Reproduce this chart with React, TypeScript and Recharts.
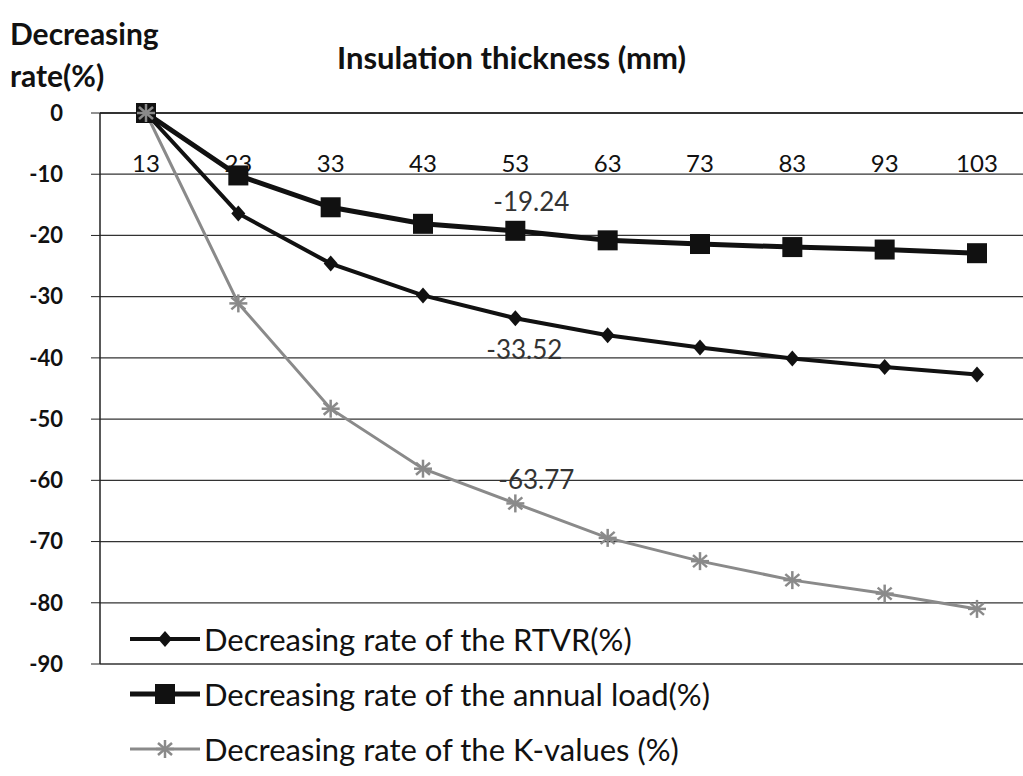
import { LineChart, Line, XAxis, YAxis, CartesianGrid } from "recharts";

const thickness = [13, 23, 33, 43, 53, 63, 73, 83, 93, 103];
const rtvrRate = [0, -16.4, -24.6, -29.8, -33.52, -36.3, -38.3, -40.1, -41.5, -42.7];
const annualLoadRate = [0, -10.2, -15.4, -18.1, -19.24, -20.8, -21.4, -21.9, -22.3, -22.9];
const kValueRate = [0, -31.1, -48.3, -58.1, -63.77, -69.4, -73.2, -76.3, -78.5, -81];
const yTicks = [0, -10, -20, -30, -40, -50, -60, -70, -80, -90];
const labelledCategory = 53;

const SERIES = [
  { key: "rtvr", name: "Decreasing rate of the RTVR(%)", color: "#111", width: 4 },
  { key: "load", name: "Decreasing rate of the annual load(%)", color: "#111", width: 5 },
  { key: "k", name: "Decreasing rate of the K-values (%)", color: "#8a8a8a", width: 3 },
];

const FONT = "Lato, 'Open Sans', sans-serif";

const data = thickness.map((t, i) => ({
  thickness: t,
  rtvr: rtvrRate[i],
  load: annualLoadRate[i],
  k: kValueRate[i],
}));

function Diamond({ cx, cy }: any) {
  if (cx == null || cy == null) return null;
  return (
    <polygon
      points={`${cx},${cy - 8} ${cx + 7},${cy} ${cx},${cy + 8} ${cx - 7},${cy}`}
      fill="#111"
    />
  );
}

function Square({ cx, cy }: any) {
  if (cx == null || cy == null) return null;
  return <rect x={cx - 10} y={cy - 10} width={20} height={20} fill="#111" />;
}

function Star({ cx, cy }: any) {
  if (cx == null || cy == null) return null;
  const r = 9;
  return (
    <g stroke="#8a8a8a" strokeWidth={2.5}>
      <line x1={cx} y1={cy - r} x2={cx} y2={cy + r} />
      <line x1={cx - r} y1={cy} x2={cx + r} y2={cy} />
      <line x1={cx - 7} y1={cy - 6} x2={cx + 7} y2={cy + 6} />
      <line x1={cx - 7} y1={cy + 6} x2={cx + 7} y2={cy - 6} />
    </g>
  );
}

const markers: Record<string, any> = { rtvr: Diamond, load: Square, k: Star };

// only the 53 mm point carries a data label
function makeLabel(dx: number, dy: number) {
  return (props: any) => {
    const { x, y, value, index } = props;
    if (thickness[index] !== labelledCategory) return null;
    return (
      <text
        x={x + dx}
        y={y + dy}
        textAnchor="middle"
        dominantBaseline="central"
        fontFamily={FONT}
        fontSize={26}
        fill="#333"
      >
        {value}
      </text>
    );
  };
}

function XTick({ x, y, payload }: any) {
  return (
    <text x={x} y={y + 59} textAnchor="middle" fontFamily={FONT} fontSize={24} fill="#111">
      {payload.value}
    </text>
  );
}

function LegendBox() {
  return (
    <div style={{ position: "absolute", left: 128, top: 611 }}>
      {SERIES.map((s) => {
        const M = markers[s.key];
        return (
          <div
            key={s.key}
            style={{ display: "flex", alignItems: "center", height: 55, fontFamily: FONT, fontSize: 31, color: "#111" }}
          >
            <svg width={74} height={30} style={{ marginRight: 2 }}>
              <line x1={2} y1={15} x2={72} y2={15} stroke={s.color} strokeWidth={s.width} />
              <M cx={37} cy={15} />
            </svg>
            <span>{s.name}</span>
          </div>
        );
      })}
    </div>
  );
}

export default function App() {
  return (
    <div
      style={{
        position: "absolute",
        left: 0,
        top: 0,
        width: 1023,
        height: 776,
        background: "#fff",
        overflow: "hidden",
      }}
    >
      <LineChart width={1023} height={776} data={data} margin={{ top: 103, right: 0, bottom: 112, left: 0 }}>
        <CartesianGrid vertical={false} stroke="#333" strokeWidth={1.3} />
        <XAxis
          dataKey="thickness"
          orientation="top"
          height={10}
          tickSize={0}
          tickMargin={0}
          tickLine={false}
          padding={{ left: 46, right: 46 }}
          axisLine={{ stroke: "#222", strokeWidth: 1.5 }}
          tick={<XTick />}
          interval={0}
        />
        <YAxis
          type="number"
          domain={[-90, 0]}
          ticks={yTicks}
          width={100}
          tickSize={9}
          tickMargin={28}
          axisLine={{ stroke: "#222", strokeWidth: 1.5 }}
          tickLine={{ stroke: "#222" }}
          tick={{ fontFamily: FONT, fontWeight: 700, fontSize: 22, fill: "#111" }}
        />
        <Line
          dataKey="rtvr"
          name={SERIES[0].name}
          stroke={SERIES[0].color}
          strokeWidth={SERIES[0].width}
          dot={<Diamond />}
          activeDot={false}
          isAnimationActive={false}
          label={makeLabel(9, 31)}
        />
        <Line
          dataKey="load"
          name={SERIES[1].name}
          stroke={SERIES[1].color}
          strokeWidth={SERIES[1].width}
          dot={<Square />}
          activeDot={false}
          isAnimationActive={false}
          label={makeLabel(16, -30)}
        />
        <Line
          dataKey="k"
          name={SERIES[2].name}
          stroke={SERIES[2].color}
          strokeWidth={SERIES[2].width}
          dot={<Star />}
          activeDot={false}
          isAnimationActive={false}
          label={makeLabel(21, -24)}
        />
      </LineChart>
      <div style={{ position: "absolute", left: 10, top: 12, fontFamily: FONT, fontWeight: 700, fontSize: 30, lineHeight: "42px", color: "#111" }}>
        Decreasing
        <br />
        rate(%)
      </div>
      <div
        style={{
          position: "absolute",
          left: 0,
          width: 1023,
          top: 38,
          textAlign: "center",
          fontFamily: FONT,
          fontWeight: 700,
          fontSize: 31,
          color: "#111",
        }}
      >
        Insulation thickness (mm)
      </div>
      <LegendBox />
    </div>
  );
}
